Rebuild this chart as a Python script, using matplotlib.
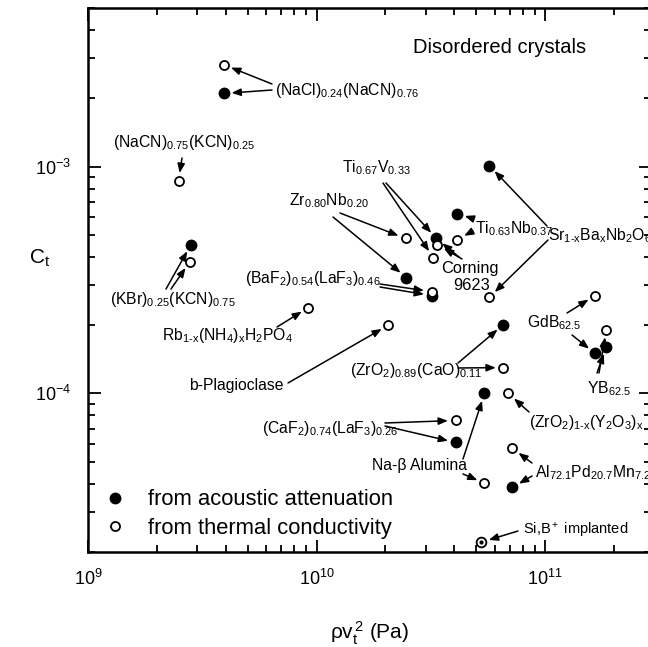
import matplotlib.pyplot as plt
from matplotlib.ticker import LogLocator, NullFormatter

plt.rcParams['font.family'] = ['Liberation Sans', 'DejaVu Sans']
plt.rcParams['mathtext.fontset'] = 'custom'
plt.rcParams['mathtext.rm'] = 'Liberation Sans'
plt.rcParams['mathtext.it'] = 'Liberation Sans:italic'
plt.rcParams['mathtext.bf'] = 'Liberation Sans:bold'
plt.rcParams['mathtext.default'] = 'regular'

# DATA: shear modulus rho*v_t^2 (Pa) and tunneling strength C_t
acoustic_names = ['NaCl', 'KBr', 'ZrNb', 'TiV', 'BaF2', 'TiNb', 'SBN',
                  'ZrCa', 'GdB', 'YB', 'NaBeta', 'CaF2', 'AlPdMn']
acoustic_x = [3.93e9, 2.82e9, 2.47e10, 3.34e10, 3.18e10, 4.13e10, 5.69e10,
              6.56e10, 1.65e11, 1.85e11, 5.42e10, 4.05e10, 7.18e10]
acoustic_y = [2.10e-3, 4.53e-4, 3.24e-4, 4.82e-4, 2.70e-4, 6.21e-4, 1.01e-3,
              2.01e-4, 1.50e-4, 1.61e-4, 1.00e-4, 6.08e-5, 3.85e-5]

thermal_names = ['NaCl', 'NaCN', 'KBr', 'Rb', 'Plag', 'ZrNb', 'Corning', 'TiV',
                 'BaF2', 'TiNb', 'SBN', 'ZrCa', 'GdB', 'YB', 'ZrY', 'CaF2',
                 'AlPdMn', 'NaBeta']
thermal_x = [3.93e9, 2.49e9, 2.79e9, 9.2e9, 2.06e10, 2.45e10, 3.37e10, 3.24e10,
             3.18e10, 4.13e10, 5.69e10, 6.56e10, 1.65e11, 1.85e11, 6.89e10,
             4.05e10, 7.18e10, 5.42e10]
thermal_y = [2.81e-3, 8.68e-4, 3.81e-4, 2.39e-4, 2.00e-4, 4.82e-4, 4.53e-4,
             3.97e-4, 2.81e-4, 4.77e-4, 2.65e-4, 1.30e-4, 2.70e-4, 1.91e-4,
             1.00e-4, 7.60e-5, 5.73e-5, 4.02e-5]

implanted_x = [5.26e10]
implanted_y = [2.21e-5]


def ax_frac(px, py):
    # label / arrow-tail layout measured in figure pixels -> axes fraction
    return ((px - 88) / 563, (552 - py) / 544)


# label text, (left, baseline) in pixels, arrows: (tail px, series, name)
labels = [
    (r'(NaCl)$_{0.24}$(NaCN)$_{0.76}$', (275, 95),
     [((272, 84), 't', 'NaCl'), ((272, 90), 'a', 'NaCl')]),
    (r'(NaCN)$_{0.75}$(KCN)$_{0.25}$', (113, 147),
     [((182, 158), 't', 'NaCN')]),
    (r'(KBr)$_{0.25}$(KCN)$_{0.75}$', (110, 304),
     [((166, 289), 'a', 'KBr'), ((171, 289), 't', 'KBr')]),
    (r'Rb$_{1\text{-}x}$(NH$_4$)$_x$H$_2$PO$_4$', (162, 340),
     [((277, 327), 't', 'Rb')]),
    (r'(BaF$_2$)$_{0.54}$(LaF$_3$)$_{0.46}$', (245, 283),
     [((380, 284), 't', 'BaF2'), ((380, 287), 'a', 'BaF2')]),
    ('b-Plagioclase', (189, 390), [((288, 383), 't', 'Plag')]),
    (r'Zr$_{0.80}$Nb$_{0.20}$', (289, 205),
     [((340, 213), 't', 'ZrNb'), ((333, 217), 'a', 'ZrNb')]),
    (r'Ti$_{0.67}$V$_{0.33}$', (342, 172),
     [((386, 183), 'a', 'TiV'), ((383, 183), 't', 'TiV')]),
    (r'Ti$_{0.63}$Nb$_{0.37}$', (475, 233),
     [((474, 219), 'a', 'TiNb'), ((473, 231), 't', 'TiNb')]),
    (r'Sr$_{1\text{-}x}$Ba$_x$Nb$_2$O$_6$', (548, 240),
     [((547, 226), 'a', 'SBN'), ((548, 240), 't', 'SBN')]),
    (r'GdB$_{62.5}$', (527, 327),
     [((567, 313), 't', 'GdB'), ((572, 335), 'a', 'GdB')]),
    (r'YB$_{62.5}$', (587, 393),
     [((597, 373), 'a', 'YB'), ((599, 373), 't', 'YB')]),
    (r'(ZrO$_2$)$_{0.89}$(CaO)$_{0.11}$', (350, 375),
     [((458, 363), 'a', 'ZrCa'), ((458, 368), 't', 'ZrCa')]),
    (r'(ZrO$_2$)$_{1\text{-}x}$(Y$_2$O$_3$)$_x$', (529, 427),
     [((529, 412), 't', 'ZrY')]),
    (r'(CaF$_2$)$_{0.74}$(LaF$_3$)$_{0.26}$', (262, 433),
     [((385, 423), 't', 'CaF2'), ((385, 426), 'a', 'CaF2')]),
    ('Na-β Alumina', (372, 470),
     [((463, 459), 'a', 'NaBeta'), ((463, 474), 't', 'NaBeta')]),
    (r'Al$_{72.1}$Pd$_{20.7}$Mn$_{7.2}$', (535, 477),
     [((532, 463), 't', 'AlPdMn'), ((532, 476), 'a', 'AlPdMn')]),
]

fig = plt.figure(figsize=(6.48, 6.47), dpi=100)
ax = fig.add_axes([88 / 648, 95 / 647, 563 / 648, 544 / 647])
ax.set_xscale('log')
ax.set_yscale('log')
ax.set_xlim(1e9, 2.9e11)
ax.set_ylim(2e-5, 5e-3)

ax.plot(acoustic_x, acoustic_y, 'o', color='black', ms=7.5, ls='none',
        label='from acoustic attenuation', zorder=3)
ax.plot(thermal_x, thermal_y, 'o', mfc='white', mec='black', mew=1.3, ms=6.5,
        ls='none', label='from thermal conductivity', zorder=4)
ax.plot(implanted_x, implanted_y, 'o', mfc='white', mec='black', mew=1.3,
        ms=7, ls='none', zorder=4)
ax.plot(implanted_x, implanted_y, 'o', color='black', ms=2, ls='none', zorder=5)

series = {'a': (acoustic_names, acoustic_x, acoustic_y),
          't': (thermal_names, thermal_x, thermal_y)}
arrow_kw = dict(arrowstyle='-|>,head_length=0.55,head_width=0.22', color='black',
                lw=1.1, shrinkA=0, shrinkB=5.5, mutation_scale=10)

for text, pos, arrows in labels:
    ax.text(*ax_frac(*pos), text, transform=ax.transAxes, fontsize=11.3,
            ha='left', va='baseline')
    for tail, key, name in arrows:
        names, xs, ys = series[key]
        i = names.index(name)
        ax.annotate('', xy=(xs[i], ys[i]), xycoords='data',
                    xytext=ax_frac(*tail), textcoords='axes fraction',
                    arrowprops=arrow_kw)

# Corning 9623 (two lines, centred)
ax.text(*ax_frac(470, 273), 'Corning', transform=ax.transAxes, fontsize=11.8,
        ha='center', va='baseline')
ax.text(*ax_frac(472, 290), '9623', transform=ax.transAxes, fontsize=11.8,
        ha='center', va='baseline')
for tail, key, name in [((462, 259), 't', 'Corning'), ((459, 257), 'a', 'TiV')]:
    names, xs, ys = series[key]
    i = names.index(name)
    ax.annotate('', xy=(xs[i], ys[i]), xytext=ax_frac(*tail),
                textcoords='axes fraction', arrowprops=arrow_kw)

ax.text(*ax_frac(523, 535), r'Si,B$^+$ implanted', transform=ax.transAxes,
        fontsize=10.5, ha='left', va='baseline')
ax.annotate('', xy=(implanted_x[0], implanted_y[0]), xytext=ax_frac(518, 531),
            textcoords='axes fraction', arrowprops=arrow_kw)

ax.text(*ax_frac(500, 53), 'Disordered crystals', transform=ax.transAxes,
        fontsize=14.5, ha='center', va='baseline')

ax.legend(loc='lower left', bbox_to_anchor=ax_frac(104, 539), frameon=False,
          fontsize=15.8, handlelength=1.0, handletextpad=1.0, borderpad=0,
          borderaxespad=0, labelspacing=0.35)

ax.set_xlabel(r'$\rho$v$_t^{\,2}$ (Pa)', fontsize=15, labelpad=22)
ax.set_ylabel(r'C$_t$', fontsize=15, rotation=0, labelpad=0)
ax.yaxis.set_label_coords(-0.085, 0.52)

ax.xaxis.set_minor_locator(LogLocator(base=10, subs=range(2, 10)))
ax.yaxis.set_minor_locator(LogLocator(base=10, subs=range(2, 10)))
ax.xaxis.set_minor_formatter(NullFormatter())
ax.yaxis.set_minor_formatter(NullFormatter())
ax.tick_params(which='both', direction='in', top=True, right=True, width=1.3,
               labelsize=13)
ax.tick_params(which='major', length=9, pad=12)
ax.tick_params(which='minor', length=5)
for sp in ax.spines.values():
    sp.set_linewidth(1.8)

fig.savefig('out.png', dpi=100)
